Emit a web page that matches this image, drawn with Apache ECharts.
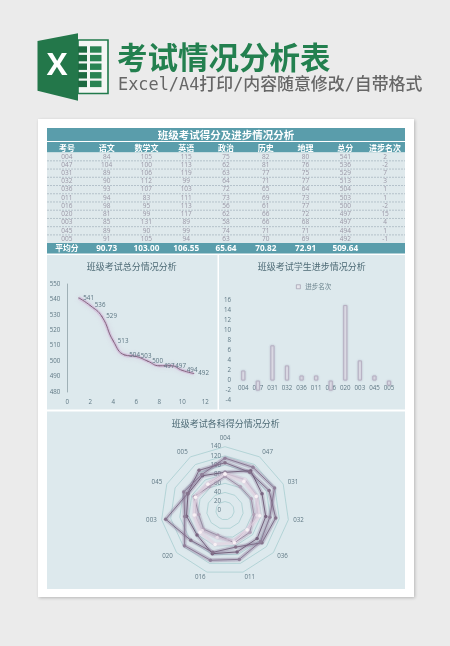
<!DOCTYPE html>
<html><head><meta charset="utf-8">
<style>html,body{margin:0;padding:0;background:#ebebeb}#c{width:450px;height:646px}</style>
<script src="https://cdn.jsdelivr.net/npm/echarts@6/dist/echarts.min.js"></script>
</head><body><div id="c"></div>
<script>
const studentIds=['004','047','031','032','036','011','016','020','003','045','005'];
const chinese=[84,104,89,90,93,94,98,81,85,89,91];
const math=[105,100,106,112,107,83,95,99,131,90,105];
const english=[115,113,119,99,103,111,113,117,89,99,94];
const politics=[75,62,63,64,72,73,56,62,58,74,63];
const history=[82,81,77,71,65,69,61,66,66,71,70];
const geography=[80,76,75,77,64,73,77,72,68,71,69];
const totals=[541,536,529,513,504,503,500,497,497,494,492];
const rankChange=[2,-2,7,3,1,1,-2,15,4,1,-1];
const rowOrder=[1,2,3,4,5,6,7,8,9,10,11];
const tableHeaders=['考号','语文','数学文','英语','政治','历史','地理','总分','进步名次'];
const averages=['平均分','90.73','103.00','106.55','65.64','70.82','72.91','509.64',''];
const subjects=[['语文',chinese],['数学文',math],['英语',english],['政治',politics],['历史',history],['地理',geography]];
const seriesColors=['#6a5772','#776480','#83708c','#97879f','#c9bbcd','#e2d7e2'];
const glowColors=['rgba(130,110,145,.26)','rgba(135,115,150,.3)','rgba(140,120,155,.34)','rgba(155,135,165,.28)','rgba(200,180,205,.36)','rgba(226,210,226,.5)'];
const dotColors=['#7a6682','#85728b','#90809a','#b0a0b6','#e4dbe6','#f8f1f5'];
// ECharts radar runs counter-clockwise: reverse all but the first spoke so the order reads clockwise
const clockwise=a=>[a[0]].concat(a.slice(1).reverse());

const CJK='"Noto Sans CJK SC",sans-serif';
const g=[];
function rect(x,y,w,h,fill,extra,z){g.push({type:'rect',silent:true,z:z===undefined?-5:z,shape:{x,y,width:w,height:h},style:Object.assign({fill},extra||{})});}
function text(t,x,y,font,fill,align){g.push({type:'text',silent:true,z:-1,x,y,style:{text:t,font,fill,align:align||'center',verticalAlign:'middle'}});}

// card and panels
rect(38,119,376,478,'#ffffff',{shadowBlur:3,shadowColor:'rgba(0,0,0,0.22)',shadowOffsetX:1,shadowOffsetY:1},-6);
rect(47,128,358,13,'#5a9dab');
rect(47,142,358,10.6,'#5a9dab');
rect(47,152.6,358,90.5,'#dfe9ec');
rect(47,243,358,10.5,'#5a9dab');
rect(47,255,170.5,154.5,'#dde9ed');
rect(219,255,186,154.5,'#dde9ed');
rect(47,411.5,358,177.5,'#dde9ed');

// logo
g.push({type:'polygon',silent:true,z:-4,shape:{points:[[78,40],[108,40],[108,93.5],[78,93.5]]},style:{fill:'#f4f6f4',stroke:'#217a4b',lineWidth:1.6}});
for(let r=0;r<5;r++){
  const y=46.3+r*8.6;
  rect(78,y,9,6.4,'#1d6b41',null,-3);
  rect(90,y,11.5,6.4,'#2a8453',null,-3);
}
g.push({type:'polygon',silent:true,z:-2,shape:{points:[[37.5,41],[78,33.3],[78,100.7],[37.5,90.7]]},style:{fill:'#23774a'}});
text('X',57,66.5,'bold 31px "Open Sans",sans-serif','#ffffff');
text('考试情况分析表',117,57,'bold 30.5px '+CJK,'#23804f','left');
text('Excel/A4打印/内容随意修改/自带格式',118,85.5,'500 16.9px "DejaVu Sans Mono","Noto Sans CJK SC",sans-serif','#666666','left');

// table
const colW=358/9, colX=i=>47+colW*(i+0.5), rowH=8.23;
text('班级考试得分及进步情况分析',226,134.7,'bold 10.5px '+CJK,'#ffffff');
tableHeaders.forEach((h,i)=>text(h,colX(i),147.5,'bold 8px '+CJK,'#ffffff'));
const cols=[studentIds,chinese,math,english,politics,history,geography,totals,rankChange];
studentIds.forEach((_,r)=>{
  const y=152.6+rowH*(r+0.5);
  cols.forEach((c,i)=>text(String(c[r]),colX(i),y,'6.5px "Open Sans",sans-serif','#9a97a6'));
  if(r<10) g.push({type:'line',silent:true,z:-2,shape:{x1:47,y1:152.6+rowH*(r+1),x2:405,y2:152.6+rowH*(r+1)},style:{stroke:'#a9b8c2',lineWidth:0.8,lineDash:[2,1]}});
});
averages.forEach((a,i)=>text(a,colX(i),248.2,(i?'bold 8.2px "Open Sans",sans-serif':'bold 7.8px '+CJK),'#ffffff'));

const axText={color:'#5f7884',fontSize:6.2,fontFamily:'"Open Sans",sans-serif'};
const titleStyle={color:'#4e6b76',fontSize:9,fontWeight:'normal',fontFamily:CJK};
const mkTitle=(t,l,tp)=>({text:t,left:l,top:tp,textAlign:'center',padding:0,textStyle:titleStyle});
const linePoints=totals.map((v,i)=>[rowOrder[i],v]);

const option={
  animation:false,
  backgroundColor:'#ebebeb',
  graphic:{elements:g},
  title:[mkTitle('班级考试总分情况分析',131.7,262),mkTitle('班级考试学生进步情况分析',311.7,262),mkTitle('班级考试各科得分情况分析',225.7,419)],
  legend:{show:true,top:283.5,left:296,icon:'rect',itemWidth:4,itemHeight:4,itemGap:3,padding:0,data:[{name:'进步名次',itemStyle:{color:'#e6e6ec',borderColor:'#9f9bac',borderWidth:0.7,shadowBlur:0}}],
    textStyle:{color:'#6a828c',fontSize:6.5,fontFamily:CJK}},
  grid:[
    {left:67.3,top:284,width:138,height:108},
    {left:236,top:300,width:160.3,height:100.7}
  ],
  xAxis:[
    {type:'value',gridIndex:0,min:0,max:12,interval:2,splitLine:{show:false},axisLine:{show:false},axisTick:{show:false},axisLabel:Object.assign({margin:7},axText)},
    {type:'category',gridIndex:1,data:studentIds,axisLine:{show:false,onZero:false},axisTick:{show:false},axisLabel:Object.assign({margin:-15,interval:0},axText)}
  ],
  yAxis:[
    {type:'value',gridIndex:0,min:480,max:550,interval:10,splitLine:{show:false},axisLine:{show:true,lineStyle:{color:'#9fb0b6',width:1}},axisTick:{show:false},axisLabel:Object.assign({margin:7},axText)},
    {type:'value',gridIndex:1,min:-4,max:16,interval:2,splitLine:{show:false},axisLine:{show:false},axisTick:{show:false},axisLabel:Object.assign({margin:5},axText)}
  ],
  radar:{
    center:[225,510.7],radius:64,min:0,max:140,splitNumber:7,shape:'polygon',startAngle:90,
    indicator:clockwise(studentIds).map((n,i)=>({name:n,min:0,max:140,axisLabel:i===0?{show:true,color:'#5f7884',fontSize:6.2,margin:4,fontFamily:'"Open Sans",sans-serif'}:{show:false}})),
    axisName:{color:'#5f7884',fontSize:6.2,fontFamily:'"Open Sans",sans-serif'},nameGap:5,
    axisLine:{show:false},axisTick:{show:false},
    splitArea:{show:false},
    splitLine:{lineStyle:{color:'#a8ced0',width:0.8}}
  },
  series:[
    {type:'line',xAxisIndex:0,yAxisIndex:0,name:'总分光晕',smooth:true,symbol:'none',data:linePoints,z:2,
      lineStyle:{color:'rgba(195,140,195,0.32)',width:3.5,shadowBlur:5,shadowColor:'rgba(195,140,195,0.6)'}},
    {type:'line',xAxisIndex:0,yAxisIndex:0,name:'总分',smooth:true,showSymbol:true,showAllSymbol:true,symbol:'circle',symbolSize:1,z:3,
      data:linePoints,
      lineStyle:{color:'#84647f',width:1},
      itemStyle:{color:'#84647f'},
      labelLayout:{hideOverlap:false},
      label:{show:true,position:'right',distance:4,color:'#5a7480',fontSize:6.2,fontFamily:'"Open Sans",sans-serif',formatter:p=>p.value[1]}},
    {type:'bar',xAxisIndex:1,yAxisIndex:1,name:'进步名次',data:rankChange,barWidth:4.2,
      itemStyle:{color:'#e2e2ea',borderColor:'#b7b1c3',borderWidth:1,shadowBlur:2,shadowColor:'rgba(140,130,160,0.4)'}},
    {type:'radar',name:'各科光晕',z:2,symbol:'none',
      data:subjects.map((s,i)=>({name:s[0]+'光晕',value:clockwise(s[1]),symbol:'none',
        lineStyle:{color:glowColors[i],width:4,shadowBlur:3,shadowColor:glowColors[i]}}))},
    {type:'radar',name:'各科',z:3,
      data:subjects.map((s,i)=>({name:s[0],value:clockwise(s[1]),symbol:'circle',symbolSize:3.5,
        itemStyle:{color:dotColors[i]},
        lineStyle:{color:seriesColors[i],width:0.9}}))}
  ]
};
const chart=echarts.init(document.getElementById('c'),null,{renderer:'canvas'});
chart.setOption(option);
</script></body></html>
